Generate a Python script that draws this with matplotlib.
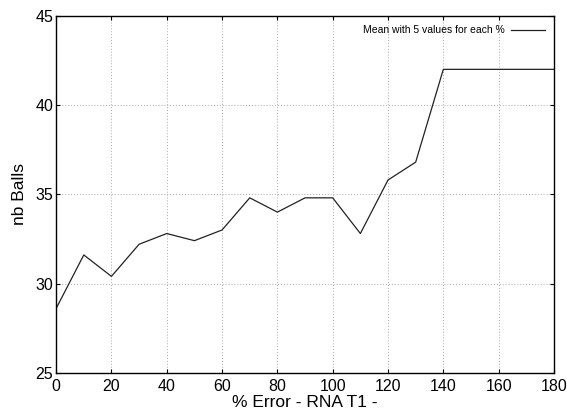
import matplotlib
matplotlib.use('Agg')
import matplotlib.pyplot as plt

plt.rcParams['font.family'] = ['Liberation Sans', 'DejaVu Sans']

# % error and mean number of balls
error_pct = [0, 10, 20, 30, 40, 50, 60, 70, 80, 90, 100, 110, 120, 130, 140, 150, 160, 170, 180]
nb_balls = [28.6, 31.6, 30.4, 32.2, 32.8, 32.4, 33.0, 34.8, 34.0, 34.8, 34.8, 32.8, 35.8, 36.8, 42, 42, 42, 42, 42]

x_ticks = [0, 20, 40, 60, 80, 100, 120, 140, 160, 180]
y_ticks = [25, 30, 35, 40, 45]

fig = plt.figure(figsize=(5.67, 4.16), dpi=100)
ax = fig.add_axes([0.099, 0.104, 0.878, 0.858])

ax.plot(error_pct, nb_balls, color='#222222', lw=0.9, label='Mean with 5 values for each %')

ax.set_xlim(0, 180)
ax.set_ylim(25, 45)
ax.set_xticks(x_ticks)
ax.set_yticks(y_ticks)
ax.tick_params(direction='in', top=True, right=True, labelsize=11.5, length=3, width=0.8)
ax.tick_params(axis='x', pad=4.5)
ax.tick_params(axis='y', pad=2)
ax.grid(True, linestyle=(0, (1, 2)), color='#aaaaaa', lw=0.7)
for s in ax.spines.values():
    s.set_linewidth(1.0)

ax.set_xlabel('% Error - RNA T1 -', fontsize=12.5, labelpad=1)
ax.set_ylabel('nb Balls', fontsize=12.5, labelpad=6)

ax.legend(loc='upper right', frameon=False, markerfirst=False, fontsize=7.5,
          handlelength=3.2, handletextpad=0.6, borderaxespad=0.5)

fig.savefig('out.png', dpi=100)
